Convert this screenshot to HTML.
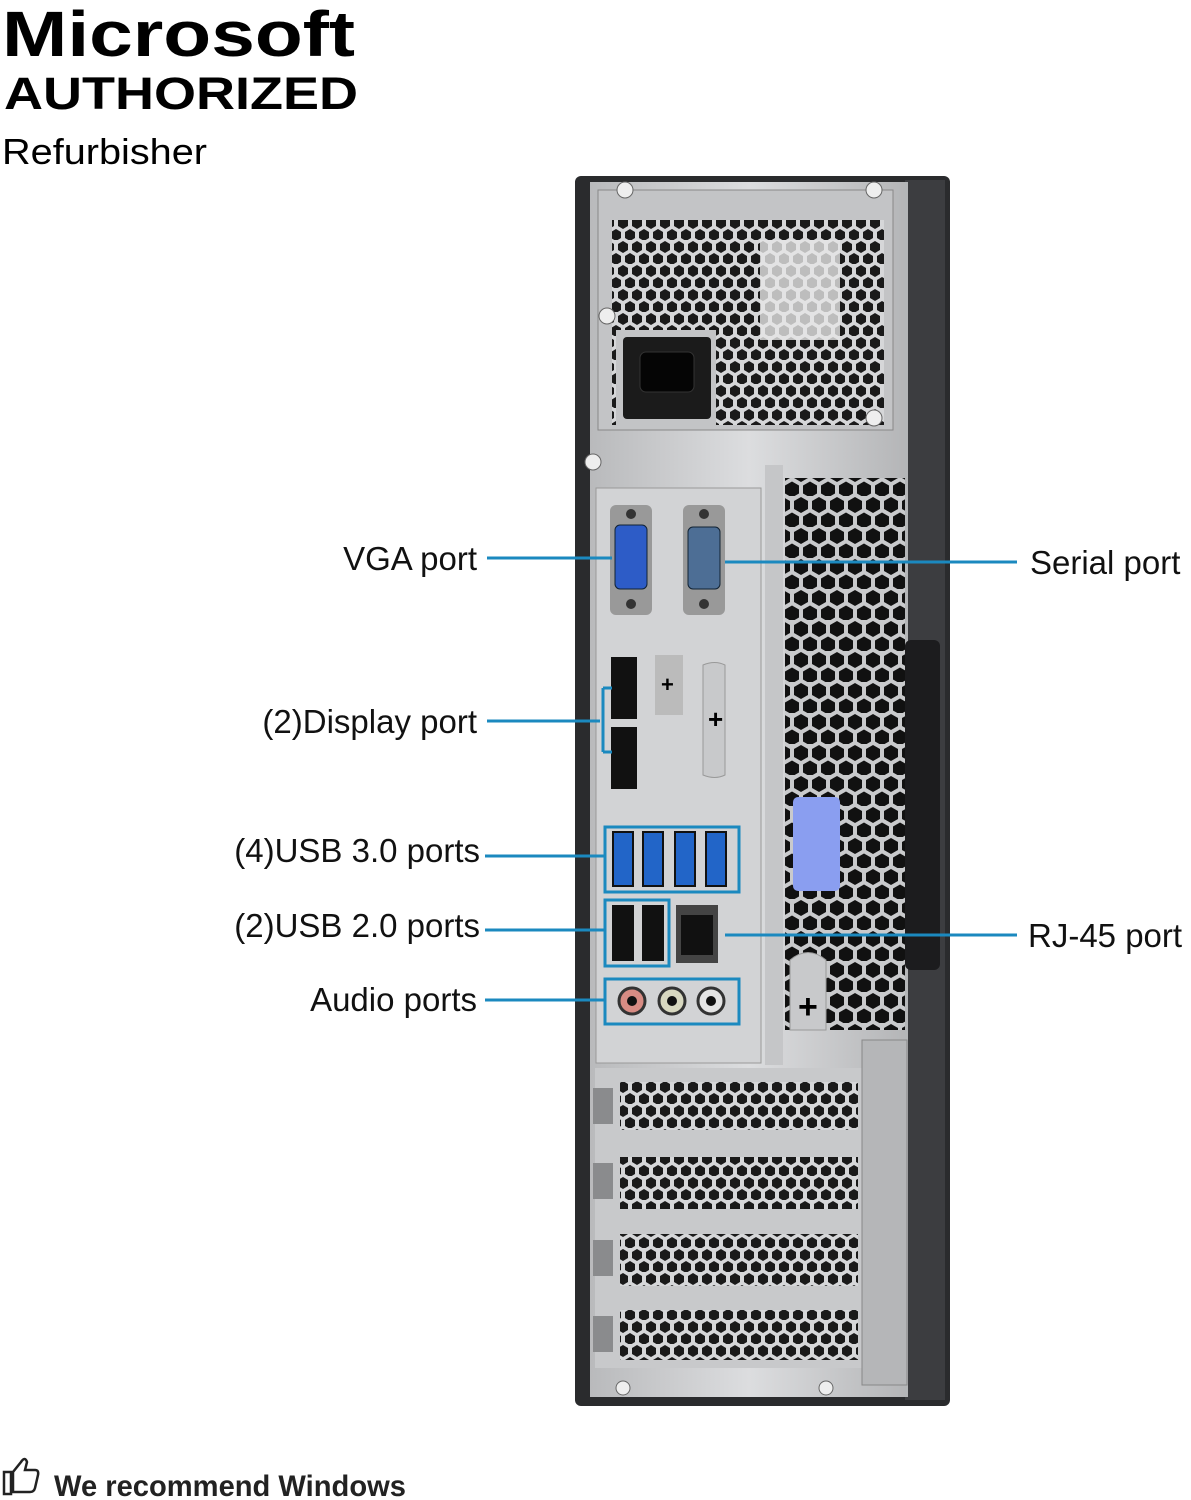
<!DOCTYPE html>
<html><head><meta charset="utf-8"><style>
html,body{margin:0;padding:0;background:#fff;width:1191px;height:1500px;overflow:hidden}
svg{display:block}
</style></head><body>
<svg width="1191" height="1500" viewBox="0 0 1191 1500" xmlns="http://www.w3.org/2000/svg">
<defs>
<pattern id="hex" width="18" height="31" patternUnits="userSpaceOnUse">
<rect width="18" height="31" fill="#c9cacc"/>
<polygon points="9,1 16,5 16,13 9,17 2,13 2,5" fill="#111"/>
<polygon points="0,16.5 7,20.5 7,28.5 0,32.5 -7,28.5 -7,20.5" fill="#111"/>
<polygon points="18,16.5 25,20.5 25,28.5 18,32.5 11,28.5 11,20.5" fill="#111"/>
</pattern>
<pattern id="hexs" width="14" height="24" patternUnits="userSpaceOnUse">
<rect width="14" height="24" fill="#d6d7d9"/>
<polygon points="7,1 12,4 12,10 7,13 2,10 2,4" fill="#1a1a1a"/>
<polygon points="0,13 5,16 5,22 0,25 -5,22 -5,16" fill="#1a1a1a"/>
<polygon points="14,13 19,16 19,22 14,25 9,22 9,16" fill="#1a1a1a"/>
</pattern>
<linearGradient id="metal" x1="0" x2="1"><stop offset="0" stop-color="#b9babc"/><stop offset="0.5" stop-color="#dcdddf"/><stop offset="1" stop-color="#b4b5b7"/></linearGradient>
</defs>

<text x="2" y="56" font-family="Liberation Sans, sans-serif" font-weight="bold" font-size="64" fill="#000" textLength="353" lengthAdjust="spacingAndGlyphs">Microsoft</text>
<text x="4" y="109" font-family="Liberation Sans, sans-serif" font-weight="bold" font-size="45" fill="#000" textLength="354" lengthAdjust="spacingAndGlyphs">AUTHORIZED</text>
<text x="2" y="164" font-family="Liberation Sans, sans-serif" font-size="36" fill="#000" textLength="205" lengthAdjust="spacingAndGlyphs">Refurbisher</text>

<rect x="575" y="176" width="375" height="1230" rx="6" fill="#2a2b2d"/>
<rect x="905" y="180" width="40" height="1220" fill="#3c3d40"/>
<rect x="590" y="182" width="318" height="1215" fill="url(#metal)"/>
<rect x="598" y="190" width="295" height="240" fill="#c3c4c6" stroke="#888" />
<rect x="612" y="220" width="272" height="205" fill="url(#hexs)"/>
<rect x="760" y="240" width="80" height="100" fill="#e6e6e6" opacity="0.8"/>
<rect x="616" y="330" width="100" height="95" fill="#c3c4c6"/>
<rect x="623" y="337" width="88" height="82" rx="4" fill="#1b1b1b"/>
<rect x="640" y="352" width="54" height="40" rx="6" fill="#050505" stroke="#333"/>
<circle cx="625" cy="190" r="8" fill="#eee" stroke="#666"/>
<circle cx="874" cy="190" r="8" fill="#eee" stroke="#666"/>
<circle cx="607" cy="316" r="8" fill="#eee" stroke="#666"/>
<circle cx="874" cy="418" r="8" fill="#eee" stroke="#666"/>
<circle cx="593" cy="462" r="8" fill="#eee" stroke="#666"/>
<rect x="785" y="478" width="120" height="552" fill="url(#hex)"/>
<rect x="905" y="640" width="35" height="330" rx="6" fill="#1c1c1e"/>
<rect x="596" y="488" width="165" height="575" fill="#d2d3d5" stroke="#999"/>
<rect x="765" y="465" width="18" height="600" fill="#c5c6c8"/>
<rect x="610" y="505" width="42" height="110" rx="6" fill="#999" />
<rect x="615" y="525" width="32" height="64" rx="5" fill="#2d5cc7" stroke="#123"/>
<circle cx="631" cy="514" r="5" fill="#333"/><circle cx="631" cy="604" r="5" fill="#333"/>
<rect x="683" y="505" width="42" height="110" rx="6" fill="#999"/>
<rect x="688" y="527" width="32" height="62" rx="5" fill="#4d6e95" stroke="#123"/>
<circle cx="704" cy="514" r="5" fill="#333"/><circle cx="704" cy="604" r="5" fill="#333"/>
<path d="M611 657 h26 v62 h-26 l0 -52 z" fill="#111"/>
<path d="M611 727 h26 v62 h-26 v-52 z" fill="#111"/>
<rect x="655" y="655" width="28" height="60" fill="#bbb"/>
<path d="M703 665 q12 -5 22 0 v110 q-10 5 -22 0 z" fill="#c8c9cb" stroke="#999"/>
<text x="708" y="728" font-size="26" font-weight="bold" font-family="Liberation Sans, sans-serif">+</text>
<text x="661" y="692" font-size="22" font-weight="bold" font-family="Liberation Sans, sans-serif">+</text>
<rect x="613" y="832" width="20" height="54" fill="#2265c8" stroke="#111" stroke-width="2"/>
<rect x="643" y="832" width="20" height="54" fill="#2265c8" stroke="#111" stroke-width="2"/>
<rect x="675" y="832" width="20" height="54" fill="#2265c8" stroke="#111" stroke-width="2"/>
<rect x="706" y="832" width="20" height="54" fill="#2265c8" stroke="#111" stroke-width="2"/>
<rect x="612" y="905" width="22" height="56" fill="#111"/>
<rect x="642" y="905" width="22" height="56" fill="#111"/>
<rect x="676" y="905" width="42" height="58" fill="#444"/>
<rect x="681" y="915" width="32" height="40" fill="#111"/>
<circle cx="632" cy="1001" r="13" fill="#d88c84" stroke="#333" stroke-width="3"/><circle cx="632" cy="1001" r="5" fill="#111"/>
<circle cx="672" cy="1001" r="13" fill="#d8d8c0" stroke="#333" stroke-width="3"/><circle cx="672" cy="1001" r="5" fill="#111"/>
<circle cx="711" cy="1001" r="13" fill="#e5e5e5" stroke="#333" stroke-width="3"/><circle cx="711" cy="1001" r="5" fill="#111"/>
<rect x="793" y="797" width="47" height="94" rx="5" fill="#8a9ef0"/>
<path d="M790 960 q18 -15 36 0 v70 h-36 z" fill="#c8c9cb" stroke="#999"/>
<text x="798" y="1018" font-size="34" font-weight="bold" font-family="Liberation Sans, sans-serif">+</text>
<rect x="595" y="1068" width="270" height="300" fill="#c8c9cb"/>
<rect x="620" y="1082" width="238" height="48" fill="url(#hexs)"/>
<rect x="620" y="1157" width="238" height="52" fill="url(#hexs)"/>
<rect x="620" y="1234" width="238" height="52" fill="url(#hexs)"/>
<rect x="620" y="1310" width="238" height="50" fill="url(#hexs)"/>
<rect x="593" y="1088" width="20" height="36" fill="#8a8b8d"/>
<rect x="593" y="1163" width="20" height="36" fill="#8a8b8d"/>
<rect x="593" y="1240" width="20" height="36" fill="#8a8b8d"/>
<rect x="593" y="1316" width="20" height="36" fill="#8a8b8d"/>
<rect x="862" y="1040" width="45" height="345" fill="#b5b6b8" stroke="#888"/>
<circle cx="623" cy="1388" r="7" fill="#eee" stroke="#666"/>
<circle cx="826" cy="1388" r="7" fill="#eee" stroke="#666"/>

<g stroke="#1b89bf" stroke-width="3" fill="none">
<line x1="487" y1="558" x2="612" y2="558"/>
<line x1="725" y1="562" x2="1017" y2="562"/>
<line x1="487" y1="721" x2="600" y2="721"/>
<line x1="603" y1="688" x2="603" y2="752"/>
<line x1="603" y1="688" x2="612" y2="688"/><line x1="603" y1="752" x2="612" y2="752"/>
<line x1="485" y1="856" x2="605" y2="856"/>
<rect x="605" y="827" width="134" height="65"/>
<line x1="485" y1="930" x2="605" y2="930"/>
<rect x="605" y="900" width="64" height="66"/>
<line x1="725" y1="935" x2="1017" y2="935"/>
<line x1="485" y1="1000" x2="605" y2="1000"/>
<rect x="605" y="979" width="134" height="45"/>
</g>
<g font-family="Liberation Sans, sans-serif" font-size="33" fill="#111">
<text x="477" y="570" text-anchor="end">VGA port</text>
<text x="1030" y="574">Serial port</text>
<text x="477" y="733" text-anchor="end">(2)Display port</text>
<text x="480" y="862" text-anchor="end">(4)USB 3.0 ports</text>
<text x="480" y="937" text-anchor="end">(2)USB 2.0 ports</text>
<text x="1028" y="947">RJ-45 port</text>
<text x="477" y="1011" text-anchor="end">Audio ports</text>
</g>

<path d="M4 1472 h7 v22 h-7 z M13 1472 l8 -10 q4 -6 6 0 l-2 8 h10 q4 0 3 5 l-3 13 q-1 4 -5 4 h-17 z" fill="none" stroke="#222" stroke-width="2.5"/>
<text x="54" y="1496" font-family="Liberation Sans, sans-serif" font-size="30" font-weight="bold" fill="#222" textLength="352" lengthAdjust="spacingAndGlyphs">We recommend Windows</text>
</svg>
</body></html>
